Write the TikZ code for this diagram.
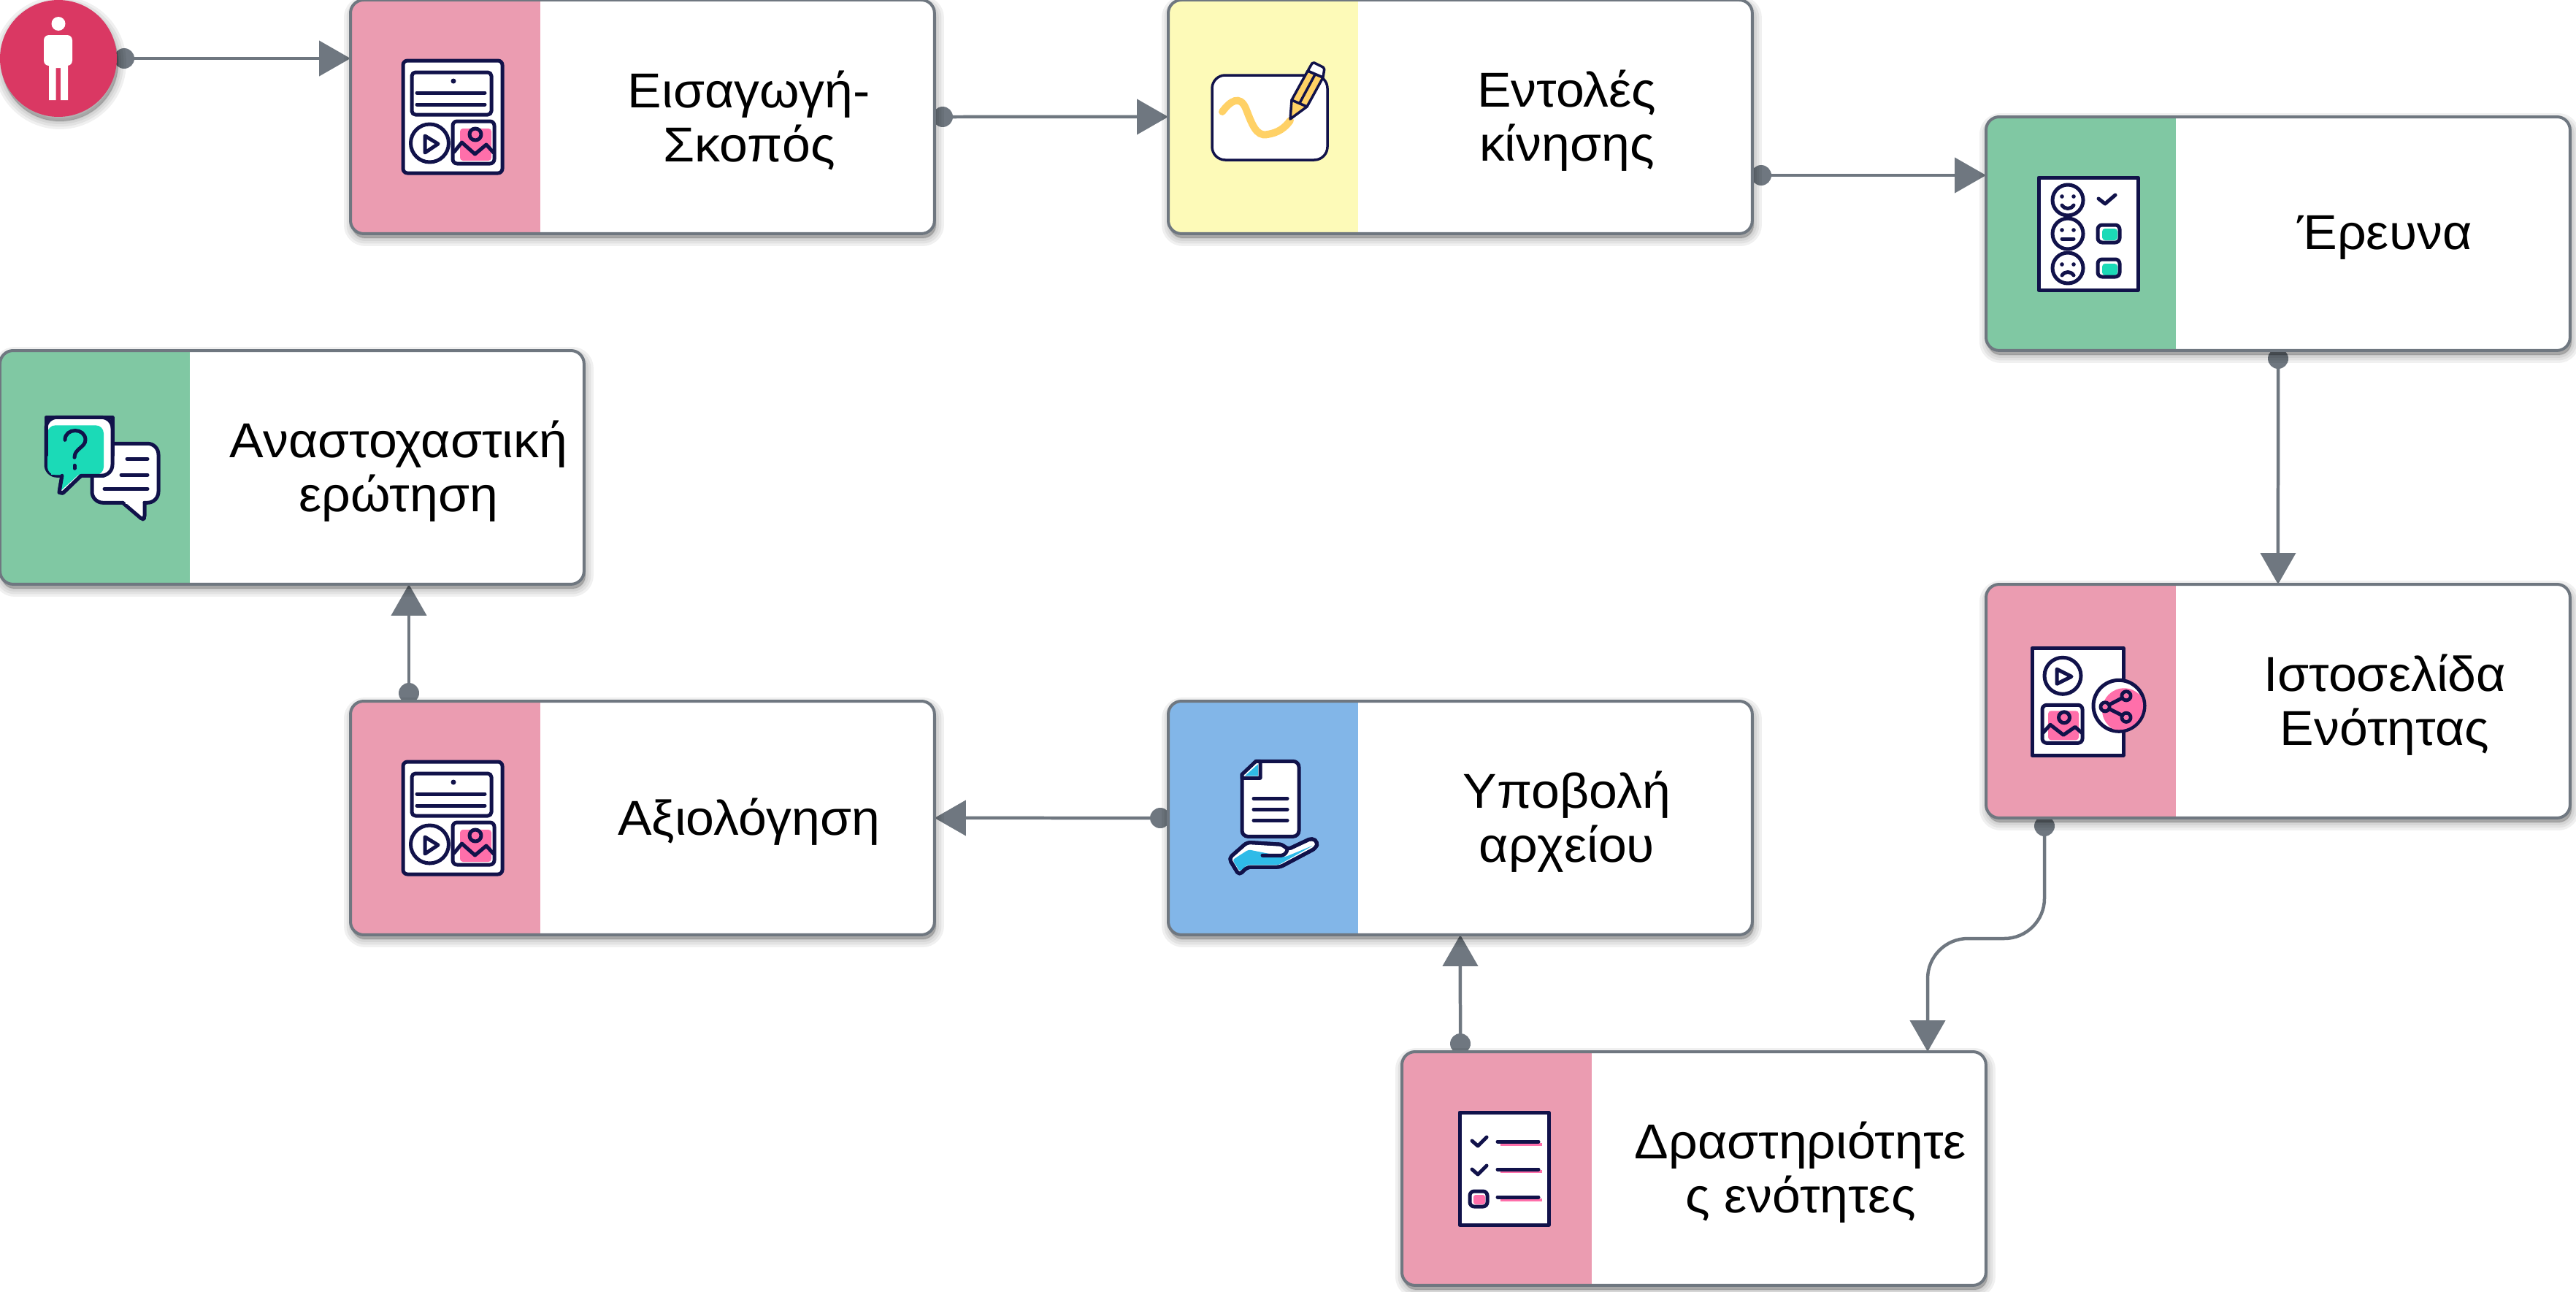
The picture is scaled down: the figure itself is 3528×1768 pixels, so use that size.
\documentclass[tikz,border=0pt]{standalone}
\usepackage{fontspec}
\setmainfont[FakeStretch=1.04]{Liberation Sans}
\usetikzlibrary{arrows.meta}
\pgfdeclarelayer{background}
\pgfsetlayers{background,main}
\definecolor{linec}{HTML}{6F7780}
\definecolor{inkc}{HTML}{11124A}
\definecolor{pinkb}{HTML}{EB9CB1}
\definecolor{yellowb}{HTML}{FDFAB8}
\definecolor{greenb}{HTML}{80C8A3}
\definecolor{blueb}{HTML}{82B6E8}
\definecolor{actorc}{HTML}{DA3863}
\definecolor{hotp}{HTML}{FF6FAA}
\definecolor{tealc}{HTML}{1BDAB7}
\definecolor{skyc}{HTML}{2FBBE8}
\definecolor{goldc}{HTML}{FFD166}
\tikzset{
  softshadow/.style={
    preaction={draw=black,fill=black,draw opacity=.06,fill opacity=.06,line width=.44cm,transform canvas={xshift=.04cm,yshift=-.12cm}},
    preaction={draw=black,fill=black,draw opacity=.06,fill opacity=.06,line width=.30cm,transform canvas={xshift=.04cm,yshift=-.12cm}},
    preaction={draw=black,fill=black,draw opacity=.06,fill opacity=.06,line width=.16cm,transform canvas={xshift=.04cm,yshift=-.12cm}},
    preaction={draw=black,fill=black,draw opacity=.06,fill opacity=.06,line width=.04cm,transform canvas={xshift=.04cm,yshift=-.12cm}}},
  boxn/.style={anchor=north west,rectangle,rounded corners=.36cm,draw=linec,line width=.08cm,fill=white,
    minimum width=16cm,minimum height=6.4cm,inner sep=0pt,outer sep=0pt,softshadow,
    path picture={\fill[#1,sharp corners] (path picture bounding box.north west) rectangle ([xshift=5.2cm]path picture bounding box.south west);}},
  boxtext/.style={align=center,inner sep=0pt,text=black,font=\fontsize{38.2}{41.8}\selectfont,xshift=2.92cm,yshift=-.1cm},
  actorn/.style={circle,fill=actorc,minimum size=3.2cm,inner sep=0pt,outer sep=0pt,softshadow},
  dotn/.style={circle,fill=linec,minimum size=.56cm,inner sep=0pt,outer sep=0pt},
  conn/.style={draw=linec,line width=.09cm,-{Triangle[length=.86cm,width=.96cm]}},
  ink/.style={draw=inkc,line width=.1cm,line join=round,line cap=round},
  inkf/.style={ink,fill=white},
}
\newcommand{\iconMedia}[1]{\begin{scope}[shift={(#1)}]
  \path[inkf,rounded corners=.12cm] (72,83) rectangle (208,237);
  \path[ink,rounded corners=.1cm] (84,99) rectangle (193,157);
  \fill[inkc] (141,111) circle[radius=3.5];
  \path[ink] (91,127) -- (184,127) (91,143) -- (184,143);
  \path[ink] (108.5,196) circle[radius=26];
  \path[ink] (102,186) -- (102,209) -- (120,197) -- cycle;
  \fill[hotp,rounded corners=.08cm] (150,176) rectangle (193,220);
  \path[ink,rounded corners=.12cm] (140,166) rectangle (197,224);
  \path[ink] (171,184) circle[radius=8];
  \path[ink] (142,208) -- (152.5,195) -- (170.5,211) -- (186,198) -- (196,209);
\end{scope}}
\newcommand{\iconPencil}[1]{\begin{scope}[shift={(#1)}]
  \path[inkf,rounded corners=.36cm,line width=.07cm] (60,103) rectangle (218,219);
  \draw[goldc,line width=.2cm,line cap=round] (74,153) .. controls (85,138) and (98,130) .. (106,148) .. controls (114,168) and (120,188) .. (136,184) .. controls (150,182) and (160,175) .. (167,165);
  \path[ink,fill=goldc,line width=.07cm] (167,163) -- (169,137) -- (191,97) -- (212,106) -- (190,146) -- cycle;
  \path[ink,line width=.07cm] (169,137) -- (190,146) (180,141) -- (201,102);
  \path[ink,fill=white,line width=.07cm,rounded corners=.04cm] (191,97) -- (198,85) -- (214,93) -- (212,106) -- cycle;
\end{scope}}
\newcommand{\iconFaces}[1]{\begin{scope}[shift={(#1)}]
  \path[inkf] (72,83) rectangle (208,237);
  \foreach \fy in {114,160,207}{
    \path[ink] (112,\fy) circle[radius=21];
    \fill[inkc] (104,\fy-5) circle[radius=2.8] (120,\fy-5) circle[radius=2.8];}
  \path[ink] (104,121) .. controls (108,127) and (116,127) .. (120,121);
  \path[ink] (104,167) -- (120,167);
  \path[ink] (104,217) .. controls (108,211) and (116,211) .. (120,217);
  \path[ink] (154,112) -- (163,119) -- (177,107);
  \fill[tealc,rounded corners=.08cm] (159,153) rectangle (180,169);
  \path[ink,rounded corners=.12cm] (153,148) rectangle (183,172);
  \fill[tealc,rounded corners=.08cm] (159,201) rectangle (180,217);
  \path[ink,rounded corners=.12cm] (153,195) rectangle (183,219);
\end{scope}}
\newcommand{\iconBubbles}[1]{\begin{scope}[shift={(#1)},yshift=.134cm]
  \path[inkf,rounded corners=.3cm] (168,215) -- (126,215) -- (126,134) -- (217,134) -- (217,215) -- (198,215);
  \path[inkf,rounded corners=.06cm] (168,215) -- (195,238) -- (198,236) -- (198,215);
  \fill[white] (172,212) rectangle (195,217);
  \path[ink] (174,155) -- (202,155) (166,177) -- (202,177) (143,196) -- (202,196);
  \path[inkf,rounded corners=.3cm] (85,178) -- (63,178) -- (63,98) -- (154,98) -- (154,178) -- (111,178);
  \path[inkf,rounded corners=.06cm] (85,178) -- (81,201) -- (86,202) -- (111,178);
  \fill[tealc,rounded corners=.22cm] (65,109) rectangle (142,177);
  \fill[tealc] (70,170) rectangle (125,177);
  \fill[tealc] (84,175) -- (84,198) -- (107,177) -- cycle;
  \path[ink] (85,178) -- (81,201) -- (86,202) -- (111,178) -- (142,178);
  \path[ink] (63,150) -- (63,98) -- (154,98) -- (154,150);
  \path[ink] (89,129) .. controls (89,112) and (117,112) .. (117,129) .. controls (117,139) and (102,141) .. (102,153);
  \path[ink] (102,164) -- (102,168);
\end{scope}}
\newcommand{\iconShare}[1]{\begin{scope}[shift={(#1)},yshift=.134cm]
  \path[inkf] (63,94) rectangle (188,241);
  \path[ink] (105,132) circle[radius=25];
  \path[ink] (97,123) -- (97,143) -- (117,133) -- cycle;
  \fill[hotp,rounded corners=.08cm] (85,180) rectangle (127,220);
  \path[ink,rounded corners=.12cm] (77,172) rectangle (132,224);
  \path[ink] (107,189) circle[radius=7.5];
  \path[ink] (78,210) -- (88,199) -- (106,213) -- (122,202) -- (131,210);
  \path[inkf] (182,173) circle[radius=35];
  \begin{scope}
    \clip (182,173) circle[radius=33];
    \fill[hotp] (189,179) circle[radius=30];
  \end{scope}
  \path[ink] (163,174.5) -- (192,159.5) (163,174.5) -- (192,189);
  \path[inkf] (163,174.5) circle[radius=6];
  \path[inkf] (192,159.5) circle[radius=6];
  \path[inkf] (192,189) circle[radius=6];
  \fill[hotp] (163,174.5) circle[radius=3.5] (192,159.5) circle[radius=3.5] (192,189) circle[radius=3.5];
\end{scope}}
\newcommand{\iconFile}[1]{\begin{scope}[shift={(#1)},yshift=.134cm]
  \path[inkf,rounded corners=.16cm] (120,89) -- (179,89) -- (179,192) -- (101,192) -- (101,107);
  \path[ink,fill=white] (120,89) -- (126,89) -- (126,112) -- (101,112) -- (101,107) -- cycle;
  \fill[skyc] (123,93) -- (123,109) -- (105,109) -- cycle;
  \path[ink] (117,140) -- (163,140) (117,155) -- (163,155) (117,170) -- (163,170);
  \path[inkf,rounded corners=.1cm] (83,222) -- (108,200) -- (157,203) -- (163,210) -- (197,194) -- (205,200) -- (202,208) -- (153,234) -- (108,234) -- (97,245) -- cycle;
  \fill[skyc,rounded corners=.06cm] (88,224) -- (110,210) -- (160,220) -- (199,204) -- (151,231) -- (108,231) -- (98,240) -- cycle;
  \path[ink,rounded corners=.1cm] (83,222) -- (108,200) -- (157,203) -- (163,210) -- (197,194) -- (205,200) -- (202,208) -- (153,234) -- (108,234) -- (97,245) -- cycle;
  \path[ink] (129,218) -- (155,218) .. controls (160,217) and (162,214) .. (163,210);
\end{scope}}
\newcommand{\iconList}[1]{\begin{scope}[shift={(#1)}]
  \path[inkf] (79,83) rectangle (201,237);
  \path[ink] (96,122) -- (104,129) -- (116,117) (96,161) -- (104,168) -- (116,156);
  \fill[hotp,rounded corners=.06cm] (98,196) rectangle (114,209);
  \path[ink,rounded corners=.12cm] (93,191) rectangle (117,212);
  \foreach \ly in {127,164,203}{\draw[hotp,line width=.09cm] (135,\ly) -- (192,\ly);}
  \path[ink] (131,123) -- (187,123) (131,161) -- (187,161) (131,199) -- (187,199);
\end{scope}}
\begin{document}
\begin{tikzpicture}[x=.02cm,y=-.02cm]
\useasboundingbox (0,0) rectangle (3528,1768);
% nodes
\node[actorn] (actor) at (80,80) {};
\node[boxn=pinkb]   (b1) at (480,0) {};
\node[boxn=yellowb] (b2) at (1600,0) {};
\node[boxn=greenb]  (b3) at (2720,160) {};
\node[boxn=pinkb]   (b4) at (2720,800) {};
\node[boxn=pinkb]   (b5) at (1920,1440) {};
\node[boxn=blueb]   (b6) at (1600,960) {};
\node[boxn=pinkb]   (b7) at (480,960) {};
\node[boxn=greenb]  (b8) at (0,480) {};
% texts
\node[boxtext] (t1) at (b1.center) {Εισαγωγή-\\Σκοπός};
\node[boxtext] (t2) at (b2.center) {Εντολές\\κίνησης};
\node[boxtext] (t3) at (b3.center) {Έρευνα};
\node[boxtext] (t4) at (b4.center) {Ιστοσελίδα\\Ενότητας};
\node[boxtext] (t5) at (b5.center) {Δραστηριότητε\\ς ενότητες};
\node[boxtext] (t6) at (b6.center) {Υποβολή\\αρχείου};
\node[boxtext] (t7) at (b7.center) {Αξιολόγηση};
\node[boxtext] (t8) at (b8.center) {Αναστοχαστική\\ερώτηση};
% person
\fill[white] (80,32.5) circle[radius=9.5];
\fill[white,rounded corners=.14cm] (60,90) -- (60,48) -- (99,48) -- (99,90) -- cycle;
\fill[white] (67,88) rectangle (76.5,137) (83,88) rectangle (93,137) (67,88) rectangle (93,93);
% icons
\iconMedia{b1.north west}
\iconPencil{b2.north west}
\iconFaces{b3.north west}
\iconShare{b4.north west}
\iconList{b5.north west}
\iconFile{b6.north west}
\iconMedia{b7.north west}
\iconBubbles{b8.north west}
% connectors
\begin{pgfonlayer}{background}
\node[dotn] (d1) at (170,80) {};
\node[dotn] (d2) at (1291,160) {};
\node[dotn] (d3) at (2412,240) {};
\node[dotn] (d4) at (3120,491) {};
\node[dotn] (d5) at (2800,1131) {};
\node[dotn] (d6) at (2000,1429) {};
\node[dotn] (d7) at (1589,1120) {};
\node[dotn] (d8) at (560,949) {};
\coordinate (m5a) at (2800,1285);
\coordinate (m5b) at (2640,1285);
\coordinate (p5) at (2640,1440);
\draw[conn] (d1) -- (d1 -| b1.west);
\draw[conn] (d2) -- (b2.west);
\draw[conn] (d3) -- (d3 -| b3.west);
\draw[conn] (d4) -- (b4.north);
\draw[conn,rounded corners=1.1cm] (d5) -- (m5a) -- (m5b) -- (p5);
\draw[conn] (d6) -- (b6.south);
\draw[conn] (d7) -- (b7.east);
\draw[conn] (d8) -- (d8 |- b8.south);
\end{pgfonlayer}
\end{tikzpicture}
\end{document}
